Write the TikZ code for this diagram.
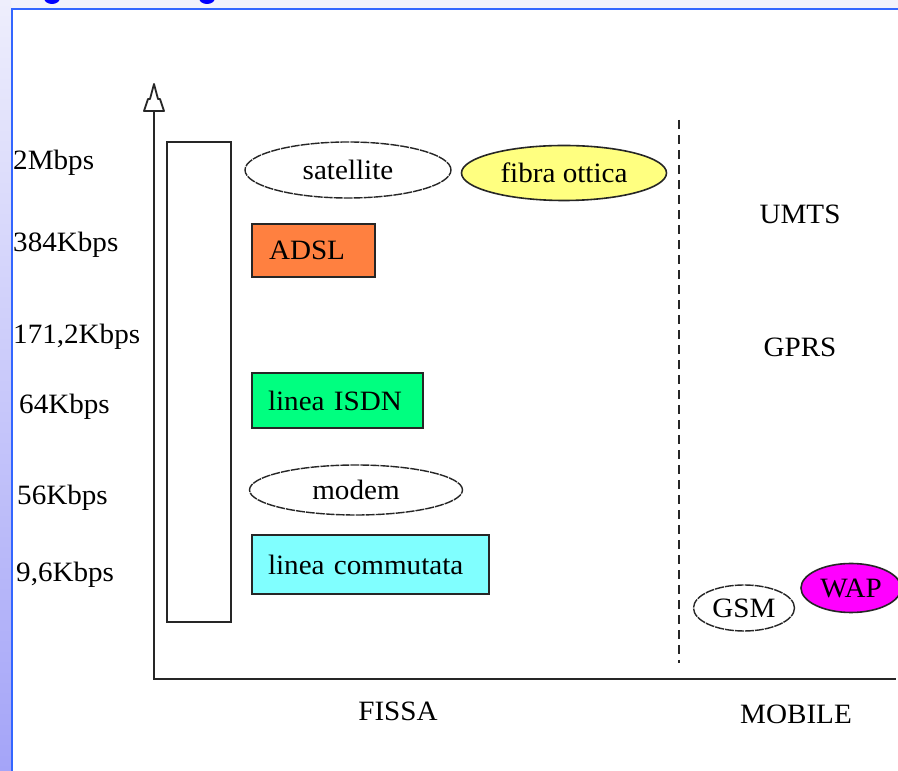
\documentclass[tikz,border=0pt]{standalone}
\usepackage{fontspec}
\setmainfont{Liberation Serif}[FakeStretch=1.04]
\usetikzlibrary{shapes.geometric}
\definecolor{frameblue}{HTML}{3366FF}
\definecolor{bandtop}{HTML}{F2F2FC}
\definecolor{bandlo}{HTML}{A4A4F8}
\definecolor{bandhi}{HTML}{EEEEFC}
\definecolor{adslc}{HTML}{FF8040}
\definecolor{isdnc}{HTML}{00FF80}
\definecolor{commc}{HTML}{80FFFF}
\definecolor{fibrac}{HTML}{FFFF80}
\definecolor{wapc}{HTML}{FF00FF}
\begin{document}
\begin{tikzpicture}[x=1pt,y=1pt,
  every node/.style={font=\fontsize{28}{31}\selectfont},
  techbox/.style={draw=black!85, line width=2pt, rectangle, anchor=west,
    minimum height=#1, align=left},
  techoval/.style={draw=black!85, line width=1.4pt, ellipse, inner sep=0pt,
    dash pattern=on 9pt off 1pt},
  rate/.style={anchor=west, inner sep=0pt},
  area/.style={inner sep=0pt}]
\useasboundingbox (0,0) rectangle (898,771);
% slide background
\fill[white] (0,0) rectangle (898,771);
\fill[bandtop] (0,762) rectangle (898,771);
\shade[bottom color=bandlo, top color=bandhi] (0,0) rectangle (11,771);
\begin{scope}
  \clip (0,0) rectangle (898,771);
  \fill[blue] (52,773) ellipse (8 and 6);
  \fill[blue] (207,773) ellipse (8 and 6);
\end{scope}
\draw[frameblue, line width=2pt] (12,0) -- (12,762) -- (898,762);

% axes
\coordinate (origin) at (154,92);
\coordinate (ytop) at (154,659);
\coordinate (xend) at (896,92);
\draw[black!85, line width=2.6pt] (ytop) -- (origin) -- (xend);
\filldraw[fill=white, draw=black!85, line width=1.8pt, line join=round]
  (144,660) -- (148,672) -- (150,672) -- (154,687) -- (158,672) -- (160,672) -- (164,660) -- cycle;
\coordinate (dtop) at (679,651);
\coordinate (dbot) at (679,108);
\draw[black!85, line width=2pt, dash pattern=on 9pt off 6pt] (dtop) -- (dbot);

% tall bar
\node[draw=black!85, line width=2pt, rectangle, minimum width=64, minimum height=480, inner sep=0pt]
  (bar) at (199,389) {};

% fixed-line technologies
\node[techoval, minimum width=206, minimum height=56] (sat) at (348,601) {satellite};
\node[techoval, fill=fibrac, solid, line width=1.6pt, minimum width=205, minimum height=55] (fibra) at (564,598) {fibra ottica};
\node[techbox=53, fill=adslc, inner xsep=17pt, text width=89] (adsl) at (251,520.5) {ADSL};
\node[techbox=55, fill=isdnc, inner xsep=16pt, text width=139] (isdn) at (251,370.5) {linea ISDN};
\node[techoval, minimum width=213, minimum height=50] (modem) at (356,281) {modem};
\node[techbox=59, fill=commc, inner xsep=16pt, text width=205] (comm) at (251,206.5) {linea commutata};

% mobile technologies
\node[techoval, minimum width=101, minimum height=46] (gsm) at (744,163) {GSM};
\node[techoval, fill=wapc, solid, line width=1.6pt, minimum width=100, minimum height=49] (wap) at (851,183) {WAP};
\node[area] (umts) at (800,557) {UMTS};
\node[area] (gprs) at (800,424) {GPRS};

% rates
\node[rate] (r1) at (13,608) {2Mbps};
\node[rate] (r2) at (13,526) {384Kbps};
\node[rate] (r3) at (13,434) {171,2Kbps};
\node[rate] (r4) at (19,364) {64Kbps};
\node[rate] (r5) at (17,273) {56Kbps};
\node[rate] (r6) at (16,196) {9,6Kbps};

% areas
\node[area] (fissa) at (398,60) {FISSA};
\node[area] (mobile) at (796,57) {MOBILE};
\end{tikzpicture}
\end{document}
